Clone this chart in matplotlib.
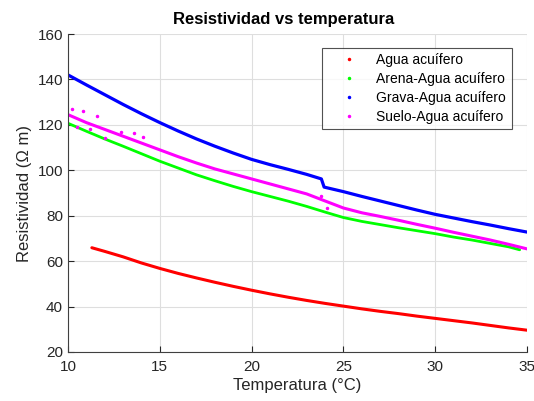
import matplotlib
matplotlib.use('Agg')
import matplotlib.pyplot as plt
from matplotlib.lines import Line2D

# values
agua_t = [11.3, 12, 13, 14, 15, 16, 17, 18, 19, 20, 21, 22, 23, 24, 25, 26, 27, 28, 29, 30, 31, 32, 33, 34, 35]
agua_r = [65.9, 64.3, 61.9, 59.2, 56.8, 54.6, 52.6, 50.7, 48.9, 47.2, 45.6, 44.1, 42.7, 41.4, 40.2,
          39.0, 37.9, 36.9, 35.8, 34.8, 33.8, 32.8, 31.7, 30.6, 29.6]

arena_t = [10, 11, 12, 13, 14, 15, 16, 17, 18, 19, 20, 21, 22, 23, 24, 25, 26, 27, 28, 29, 30, 31, 32, 33, 34, 34.6]
arena_r = [120.7, 117.2, 113.8, 110.6, 107.3, 104.0, 101.0, 98.0, 95.4, 92.9, 90.6, 88.5, 86.4, 84.1, 81.6,
           79.2, 77.5, 76.1, 74.7, 73.4, 72.1, 70.6, 69.3, 67.8, 66.3, 65.0]

grava_t = [10, 11, 12, 13, 14, 15, 16, 17, 18, 19, 20, 21, 22, 23, 23.8, 23.95, 25, 26, 27, 28, 29, 30,
           31, 32, 33, 34, 35]
grava_r = [142.0, 137.6, 133.3, 129.0, 124.9, 121.0, 117.3, 113.8, 110.6, 107.6, 104.8, 102.5, 100.4, 98.2,
           96.2, 92.6, 90.6, 88.5, 86.5, 84.5, 82.5, 80.6, 79.0, 77.4, 75.9, 74.3, 72.8]

suelo_t = [10, 11, 12, 13, 14, 15, 16, 17, 18, 19, 20, 21, 22, 23, 24, 25, 26, 27, 28, 29, 30, 31, 32, 33, 34, 35]
suelo_r = [124.5, 121.0, 118.0, 115.0, 112.0, 109.0, 106.0, 103.2, 100.6, 98.4, 96.2, 94.0, 91.8, 89.6, 86.5,
           83.4, 81.3, 79.7, 78.0, 76.2, 74.5, 72.7, 71.0, 69.3, 67.4, 65.4]

# scattered points of the Suelo series near the start
suelo_out_t = [10.2, 10.5, 10.8, 11.2, 11.6, 12.0, 12.9, 13.6, 14.1, 23.8, 24.1]
suelo_out_r = [127, 119, 126, 118, 124, 114, 117, 116.3, 114.6, 88.5, 83.5]

names = ['Agua acuífero', 'Arena-Agua acuífero', 'Grava-Agua acuífero', 'Suelo-Agua acuífero']
colors = ['#ff0000', '#00ff00', '#0000ff', '#ff00ff']

plt.rcParams['font.family'] = ['Liberation Sans', 'DejaVu Sans']

fig = plt.figure(figsize=(5.34, 4.01), dpi=100)
ax = fig.add_axes([0.1273, 0.1222, 0.8596, 0.793])

ax.plot(agua_t, agua_r, color=colors[0], lw=2.2, solid_capstyle='round')
ax.plot(arena_t, arena_r, color=colors[1], lw=2.0, solid_capstyle='round')
ax.plot(grava_t, grava_r, color=colors[2], lw=2.3, solid_capstyle='round')
ax.plot(suelo_t, suelo_r, color=colors[3], lw=2.2, solid_capstyle='round')
ax.plot(suelo_out_t, suelo_out_r, '.', color=colors[3], ms=3)

ax.set_xlim(10, 35)
ax.set_ylim(20, 160)
ax.set_xticks([10, 15, 20, 25, 30, 35])
ax.set_yticks(range(20, 161, 20))
ax.grid(True, color='#dedede', lw=0.8)
ax.set_axisbelow(True)
for s in ['top', 'right']:
    ax.spines[s].set_visible(False)
for s in ['left', 'bottom']:
    ax.spines[s].set_color('#404040')
ax.tick_params(direction='in', length=4, colors='#262626', labelsize=11, width=0.8)
ax.tick_params(axis='x', pad=6)

ax.set_xlabel('Temperatura (°C)', fontsize=12, color='#262626', labelpad=3)
ax.set_ylabel('Resistividad (Ω m)', fontsize=12, color='#262626', labelpad=4)
ax.set_title('Resistividad vs temperatura', fontsize=12, fontweight='bold', pad=7, x=0.47)

handles = [Line2D([], [], ls='none', marker='.', ms=3, color=c) for c in colors]
leg = ax.legend(handles, names, loc='upper right', bbox_to_anchor=(0.982, 0.979),
                fontsize=10, frameon=True, fancybox=False, edgecolor='#262626',
                handlelength=3.0, handletextpad=0.5, borderpad=0.4, labelspacing=0.35)
leg.get_frame().set_linewidth(0.8)

fig.savefig('out.png', dpi=100)
